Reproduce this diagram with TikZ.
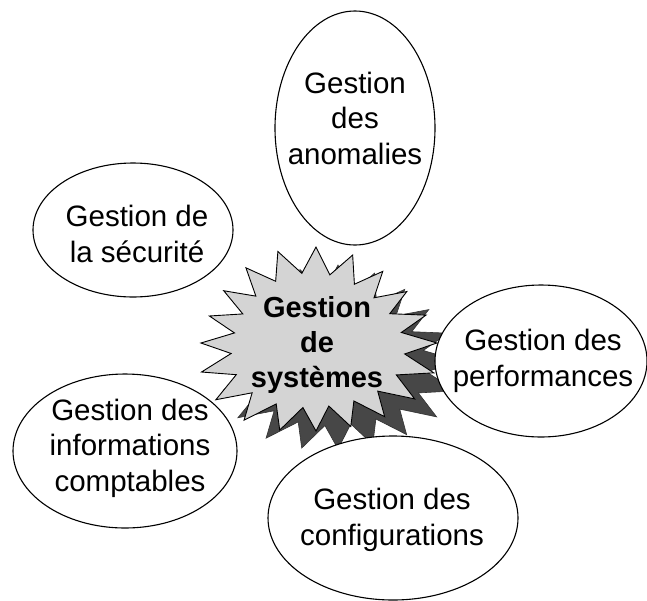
\documentclass[tikz,border=0pt]{standalone}
\usepackage{fontspec}
\setmainfont{Liberation Sans}
\usetikzlibrary{shapes.geometric}
\begin{document}
\begin{tikzpicture}[x=1pt,y=-1pt,
  bubble/.style={draw, ellipse, fill=white, line width=1.1pt, inner sep=0pt},
  lbl/.style={align=center, inner sep=0pt, font=\fontsize{29.5}{35.5}\selectfont},
  hub/.style={align=center, inner sep=0pt, font=\fontsize{29}{35}\selectfont\bfseries},
  starfill/.style={fill=black!17, draw=black, line width=0.9pt},
  shadowfill/.style={fill=black!72, draw=black!80, line width=0.6pt}]
\useasboundingbox (0,0) rectangle (647,600);
% nodes behind the star
\node[bubble, minimum width=200, minimum height=134] (secu) at (133,230) {};
\node[bubble, minimum width=224, minimum height=154] (info) at (125,451) {};
% star shadow and star
\fill[shadowfill] plot[samples=41, domain=0:360]
  ({338 + 118*cos(\x)*(1-0.27*mod(round(\x/9),2))*(1+0.05*sin(3*\x+30))},
   {361 + 92*sin(\x)*(1-0.27*mod(round(\x/9),2))*(1+0.05*sin(3*\x+30))}) -- cycle;
\filldraw[starfill] plot[samples=41, domain=0:360]
  ({316 + 118*cos(\x)*(1-0.27*mod(round(\x/9),2))*(1+0.05*sin(3*\x+30))},
   {343 + 92*sin(\x)*(1-0.27*mod(round(\x/9),2))*(1+0.05*sin(3*\x+30))}) -- cycle;
% nodes in front of the star
\node[bubble, minimum width=212, minimum height=152] (perf) at (541,361) {};
\node[bubble, minimum width=250, minimum height=164] (conf) at (393,518) {};
\node[bubble, minimum width=160, minimum height=234] (anom) at (355,128) {};
% texts
\node[lbl] (anomT) at (355,118) {Gestion\\des\\anomalies};
\node[lbl] (secuT) at (137,234) {Gestion de\\la sécurité};
\node[lbl] (perfT) at (543,361) {Gestion des\\performances};
\node[lbl] (infoT) at (130,448) {Gestion des\\informations\\comptables};
\node[lbl] (confT) at (392,520) {Gestion des\\configurations};
\node[hub] (hubT) at (317,345) {Gestion\\de\\systèmes};
\end{tikzpicture}
\end{document}
